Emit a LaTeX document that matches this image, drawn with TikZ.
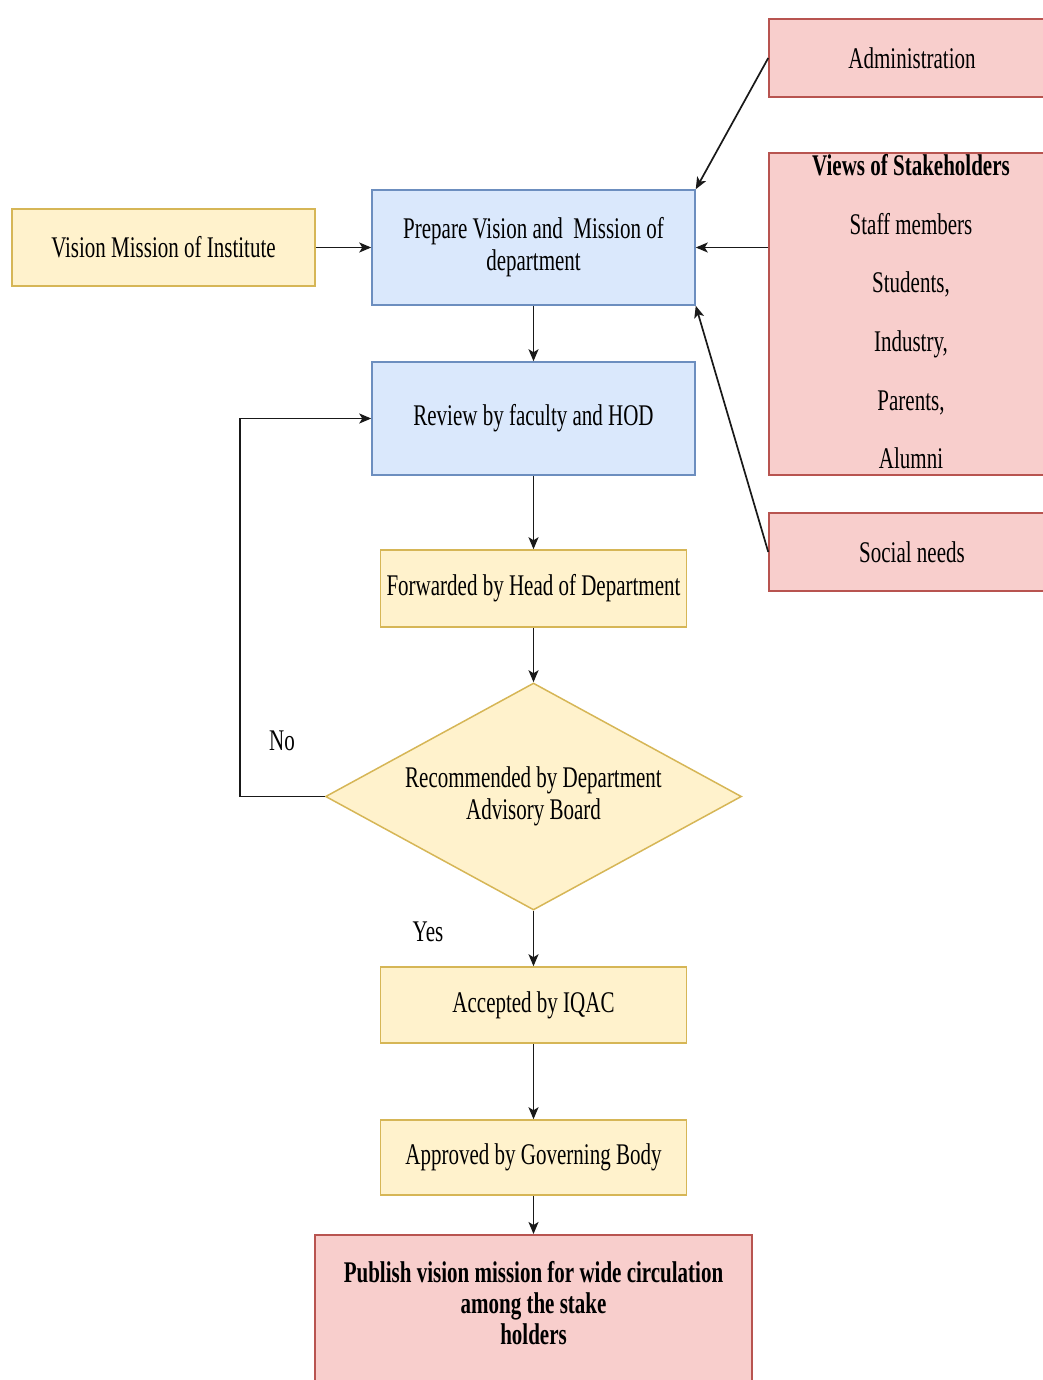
\documentclass[tikz,border=0pt]{standalone}
\usepackage{fontspec}
\setmainfont{Liberation Serif}[FakeStretch=0.7]
\usetikzlibrary{arrows.meta,shapes.geometric}
\definecolor{blueFill}{HTML}{DAE8FC}
\definecolor{blueLine}{HTML}{6C8EBF}
\definecolor{yelFill}{HTML}{FFF2CC}
\definecolor{yelLine}{HTML}{D6B656}
\definecolor{redFill}{HTML}{F8CECC}
\definecolor{redLine}{HTML}{B85450}
\tikzset{
  box/.style={rectangle, line width=1.5pt, inner sep=0pt, align=center,
    font=\fontsize{30}{32}\selectfont},
  bluebox/.style={box, fill=blueFill, draw=blueLine},
  yelbox/.style={box, fill=yelFill, draw=yelLine},
  redbox/.style={box, fill=redFill, draw=redLine},
  decision/.style={diamond, aspect=1.84, inner sep=0pt, fill=yelFill, draw=yelLine,
    line width=1.5pt, align=center, font=\fontsize{30}{32}\selectfont},
  flow/.style={line width=1.7pt, draw=black!90, -{Stealth[length=12pt,width=10pt,inset=3pt]}},
  tag/.style={font=\fontsize{30}{32}\selectfont}
}
\begin{document}
\begin{tikzpicture}[x=1pt,y=-1pt]
\useasboundingbox (0,0) rectangle (1043,1380);

% main column
\node[bluebox, minimum width=323pt, minimum height=115pt] (prep) at (533.5,247.5)
  {Prepare Vision and\ \ Mission of\\department};
\node[bluebox, minimum width=323pt, minimum height=113pt] (rev) at (533.5,418.5)
  {Review by faculty and HOD};
\node[yelbox, minimum width=306pt, minimum height=77pt] (fwd) at (533.5,588.5)
  {Forwarded by Head of Department};
\node[decision, minimum width=416pt, minimum height=227pt] (dab) at (533.5,796.5)
  {Recommended by Department\\Advisory Board};
\node[yelbox, minimum width=306pt, minimum height=76pt] (iqac) at (533.5,1005)
  {Accepted by IQAC};
\node[yelbox, minimum width=306pt, minimum height=75pt] (gov) at (533.5,1157.5)
  {Approved by Governing Body};
\node[redbox, minimum width=437pt, minimum height=170pt, anchor=north] (pub) at (533.5,1234)
  {};
\node[font=\fontsize{30}{31}\selectfont\bfseries, align=center, anchor=north] (pubtxt) at (533.5,1258)
  {Publish vision mission for wide circulation\\among the stake\\holders};

% input on the left
\node[yelbox, minimum width=303pt, minimum height=77pt] (vmi) at (163.5,247.5)
  {Vision Mission of Institute};

% inputs on the right
\node[redbox, minimum width=286pt, minimum height=78pt] (adm) at (912,58)
  {Administration};
\node[redbox, minimum width=286pt, minimum height=322pt] (views) at (912,314) {};
\node[align=center, font=\fontsize{30}{32}\selectfont, anchor=north] (viewstxt) at (911,151)
  {\textbf{Views of Stakeholders}\\[26.6pt]
   Staff members\\[26.6pt]
   Students,\\[26.6pt]
   Industry,\\[26.6pt]
   Parents,\\[26.6pt]
   Alumni};
\node[redbox, minimum width=286pt, minimum height=78pt] (soc) at (912,552)
  {Social needs};

% connectors
\draw[flow] (vmi.east) -- (prep.west);
\draw[flow] (adm.west) -- (prep.north east);
\draw[flow] (views.west |- prep.east) -- (prep.east);
\draw[flow] (soc.west) -- (prep.south east);
\draw[flow] (prep.south) -- (rev.north);
\draw[flow] (rev.south) -- (fwd.north);
\draw[flow] (fwd.south) -- (dab.north);
\draw[flow] (dab.south) -- (iqac.north);
\draw[flow] (iqac.south) -- (gov.north);
\draw[flow] (gov.south) -- (pub.north);
\coordinate (loopc) at (240,796.5);
\draw[flow] (dab.west) -- (loopc) |- (rev.west);

% branch labels
\node[tag] (nolbl) at (282,741) {No};
\node[tag] (yeslbl) at (428,932) {Yes};
\end{tikzpicture}
\end{document}
